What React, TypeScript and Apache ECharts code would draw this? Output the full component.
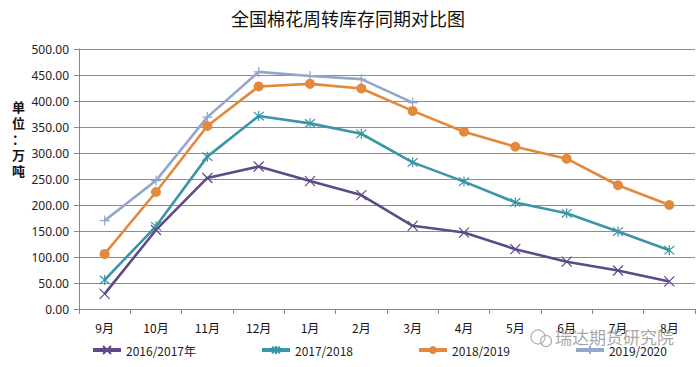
import React, { useEffect, useRef } from "react";
import * as echarts from "echarts";

const categories = ["9月", "10月", "11月", "12月", "1月", "2月", "3月", "4月", "5月", "6月", "7月", "8月"];
const s2016 = [29, 152, 252, 274, 246, 219, 160, 147, 115, 91, 74, 53];
const s2017 = [56, 159, 293, 371, 357, 337, 282, 245, 205, 184, 149, 113];
const s2018 = [106, 225, 352, 428, 433, 424, 381, 341, 312, 289, 238, 200];
const s2019 = [170, 247, 369, 456, 448, 442, 397];
const seriesNames = ["2016/2017年", "2017/2018", "2018/2019", "2019/2020"];
const yTicks = { min: 0, max: 500, interval: 50 };

const CROSS = "path://M0,0L10,10M10,0L0,10";
const STAR = "path://M0,0L10,10M10,0L0,10M5,-1L5,11";
const PLUS = "path://M5,0L5,10M0,5L10,5";

export default function App() {
  const ref = useRef<HTMLDivElement>(null);
  useEffect(() => {
    if (!ref.current) return;
    const chart = echarts.init(ref.current, undefined, { renderer: "svg" });
    const mk = (name: string, data: number[], color: string, symbol: string, size: number, z: number) => ({
      name,
      type: "line",
      data,
      z,
      symbol,
      symbolSize: size,
      lineStyle: { color, width: 2.6 },
      itemStyle: { color, borderColor: color, borderWidth: symbol === "circle" ? 0 : 1.2 },
    });
    chart.setOption({
      animation: false,
      backgroundColor: "#fff",
      title: {
        text: "全国棉花周转库存同期对比图",
        left: "center",
        top: 4,
        textStyle: { fontSize: 18, fontWeight: "normal", color: "#111", fontFamily: "Noto Sans CJK SC" },
      },
      grid: { left: 79, right: 1, top: 49, bottom: 58 },
      legend: {
        bottom: 6,
        left: 86,
        itemGap: 64,
        itemWidth: 28,
        itemHeight: 10,
        lineStyle: { width: 4 },
        textStyle: { fontSize: 12, color: "#222", fontFamily: "Noto Sans CJK SC" },
        data: seriesNames,
      },
      xAxis: {
        type: "category",
        data: categories,
        boundaryGap: true,
        axisLine: { lineStyle: { color: "#888", width: 1 } },
        axisTick: { show: true, length: 5, lineStyle: { color: "#888" } },
        axisLabel: { fontSize: 12, color: "#111", margin: 12, fontFamily: "Noto Sans CJK SC" },
      },
      yAxis: {
        type: "value",
        min: yTicks.min,
        max: yTicks.max,
        interval: yTicks.interval,
        axisLine: { show: true, lineStyle: { color: "#888", width: 1 } },
        axisTick: { show: true, length: 5, lineStyle: { color: "#888" } },
        splitLine: { lineStyle: { color: "#8c8c8c", width: 1 } },
        axisLabel: {
          fontSize: 12,
          color: "#222",
          margin: 10,
          fontFamily: "Noto Sans",
          formatter: (v: number) => v.toFixed(2),
        },
      },
      graphic: [
        {
          type: "text",
          left: 12,
          top: 98,
          style: {
            text: "单\n位\n：\n万\n吨",
            fontSize: 13,
            fontWeight: "bold",
            lineHeight: 16,
            fill: "#111",
            fontFamily: "Noto Sans CJK SC",
          },
        },
        {
          type: "circle",
          shape: { cx: 538, cy: 337, r: 7 },
          style: { fill: "none", stroke: "#b0b0b0", lineWidth: 1.2 },
          z: 1,
        },
        {
          type: "circle",
          shape: { cx: 546, cy: 341, r: 5.5 },
          style: { fill: "none", stroke: "#b0b0b0", lineWidth: 1.2 },
          z: 1,
        },
        {
          type: "text",
          left: 555,
          top: 328,
          style: {
            text: "瑞达期货研究院",
            fontSize: 17,
            fill: "rgba(150,150,150,0.85)",
            fontFamily: "Noto Sans CJK SC",
          },
          z: 1,
        },
      ],
      series: [
        mk(seriesNames[0], s2016, "#5e4a86", CROSS, 10, 4),
        mk(seriesNames[1], s2017, "#3a96a6", STAR, 10, 3),
        mk(seriesNames[2], s2018, "#e2893c", "circle", 10, 2),
        mk(seriesNames[3], s2019, "#95a6cb", PLUS, 10, 1),
      ],
    });
    return () => chart.dispose();
  }, []);
  return <div ref={ref} style={{ width: 696, height: 367, position: "absolute", left: 0, top: 0 }} />;
}
